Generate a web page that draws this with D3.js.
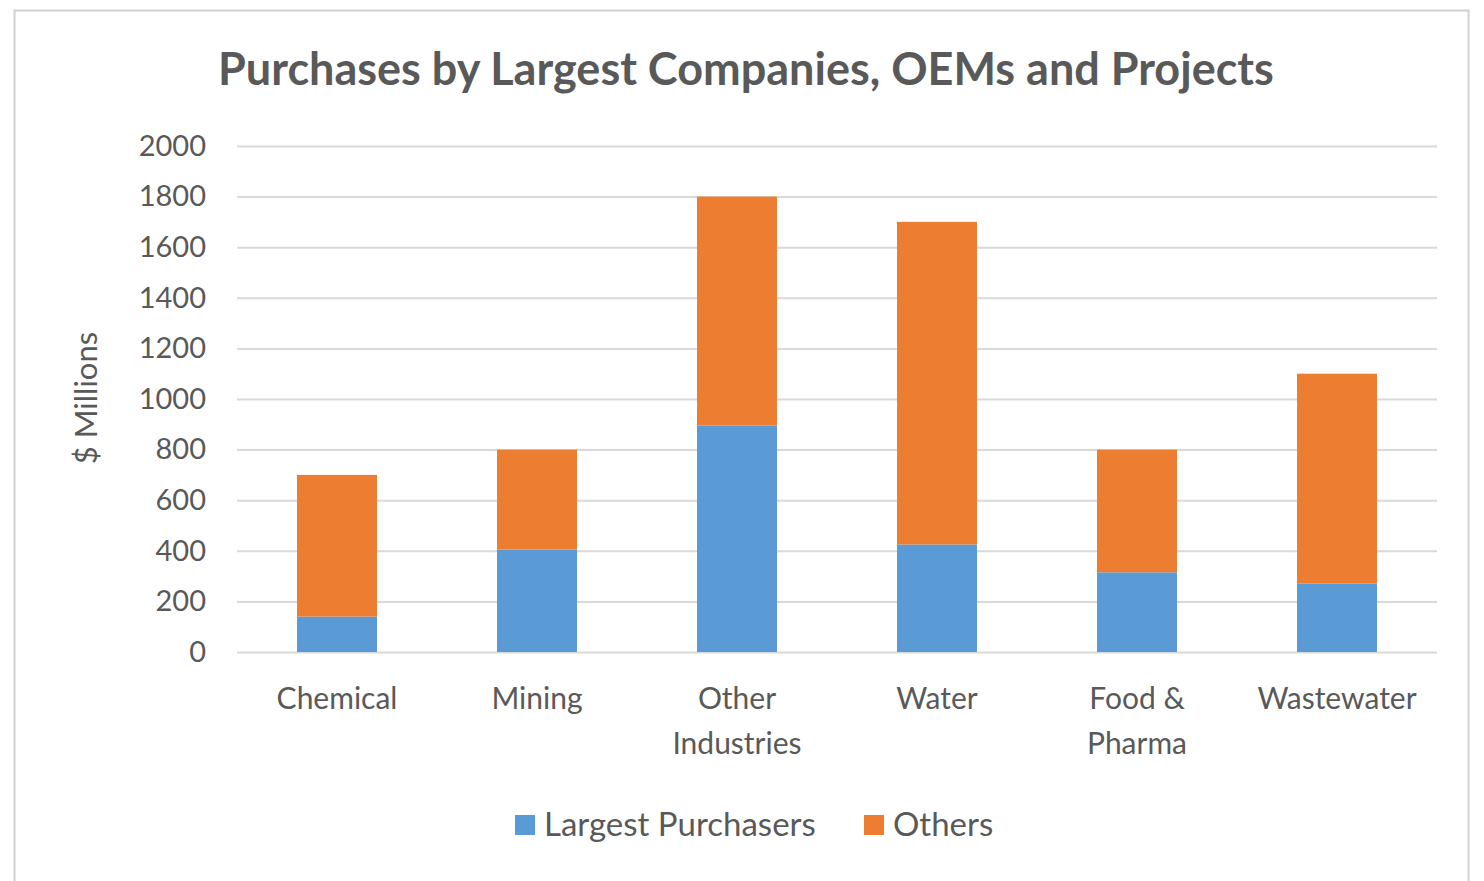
<!DOCTYPE html>
<html>
<head>
<meta charset="utf-8">
<script src="https://cdn.jsdelivr.net/npm/d3@7"></script>
<style>
  body { margin: 0; background: #fff; }
  svg text { font-family: Lato, "Open Sans", sans-serif; fill: #595959; }
</style>
</head>
<body>
<div id="chart"></div>
<script>
const categories = [["Chemical"], ["Mining"], ["Other", "Industries"], ["Water"], ["Food &", "Pharma"], ["Wastewater"]];
const largestPurchasers = [140, 405, 895, 425, 315, 270];
const others = [560, 395, 905, 1275, 485, 830];
const seriesNames = ["Largest Purchasers", "Others"];
const seriesColors = ["#5b9bd5", "#ed7d31"];
const yTicks = [0, 200, 400, 600, 800, 1000, 1200, 1400, 1600, 1800, 2000];

const width = 1484;
const height = 881;
const plot = { left: 237, right: 1437, top: 146, bottom: 652 };

const svg = d3.select("#chart").append("svg")
  .attr("width", width)
  .attr("height", height);

// frame
svg.append("rect")
  .attr("x", 14.5).attr("y", 10.5)
  .attr("width", 1454).attr("height", 880)
  .attr("fill", "#fff")
  .attr("stroke", "#d0d0d0")
  .attr("stroke-width", 2);

const rows = categories.map((c, i) => ({
  key: c.join(" "),
  lines: c,
  "Largest Purchasers": largestPurchasers[i],
  Others: others[i]
}));

const x = d3.scaleBand()
  .domain(rows.map(d => d.key))
  .range([plot.left, plot.right])
  .paddingInner(0.6)
  .paddingOuter(0.3);

const y = d3.scaleLinear()
  .domain([0, 2000])
  .range([plot.bottom, plot.top]);

// gridlines + y labels
const yAxis = d3.axisLeft(y)
  .tickValues(yTicks)
  .tickFormat(d3.format("d"))
  .tickSize(-(plot.right - plot.left))
  .tickPadding(31);

const gy = svg.append("g")
  .attr("transform", `translate(${plot.left},0)`)
  .call(yAxis);
gy.select(".domain").remove();
gy.selectAll(".tick line").attr("stroke", "#d9d9d9").attr("stroke-width", 2);
gy.selectAll(".tick text")
  .style("font-size", "29px")
  .attr("fill", "#595959");

const stack = d3.stack().keys(seriesNames);
const layers = stack(rows);

svg.append("g").selectAll("g")
  .data(layers)
  .join("g")
  .attr("fill", (d, i) => seriesColors[i])
  .selectAll("rect")
  .data(d => d)
  .join("rect")
  .attr("x", d => x(d.data.key))
  .attr("width", x.bandwidth())
  .attr("y", d => y(d[1]))
  .attr("height", d => y(d[0]) - y(d[1]));

// category labels
const xl = svg.append("g").selectAll("text")
  .data(rows)
  .join("text")
  .attr("text-anchor", "middle")
  .attr("x", d => x(d.key) + x.bandwidth() / 2)
  .attr("y", 709)
  .style("font-size", "30px");
xl.selectAll("tspan")
  .data(d => d.lines)
  .join("tspan")
  .attr("x", function () { return d3.select(this.parentNode).attr("x"); })
  .attr("dy", (d, i) => i === 0 ? 0 : 45)
  .text(d => d);

// axis title
svg.append("text")
  .attr("transform", "translate(97,398) rotate(-90)")
  .attr("text-anchor", "middle")
  .style("font-size", "31px")
  .text("$ Millions");

// chart title
svg.append("text")
  .attr("x", 746)
  .attr("y", 85)
  .attr("text-anchor", "middle")
  .style("font-size", "45px")
  .style("font-weight", "bold")
  .text("Purchases by Largest Companies, OEMs and Projects");

// legend
const legendItems = [
  { name: seriesNames[0], color: seriesColors[0], x: 515 },
  { name: seriesNames[1], color: seriesColors[1], x: 864 }
];
const lg = svg.append("g").selectAll("g")
  .data(legendItems)
  .join("g")
  .attr("transform", d => `translate(${d.x},815)`);
lg.append("rect")
  .attr("width", 20).attr("height", 20)
  .attr("fill", d => d.color);
lg.append("text")
  .attr("x", 29)
  .attr("y", 21)
  .style("font-size", "33px")
  .text(d => d.name);
</script>
</body>
</html>
